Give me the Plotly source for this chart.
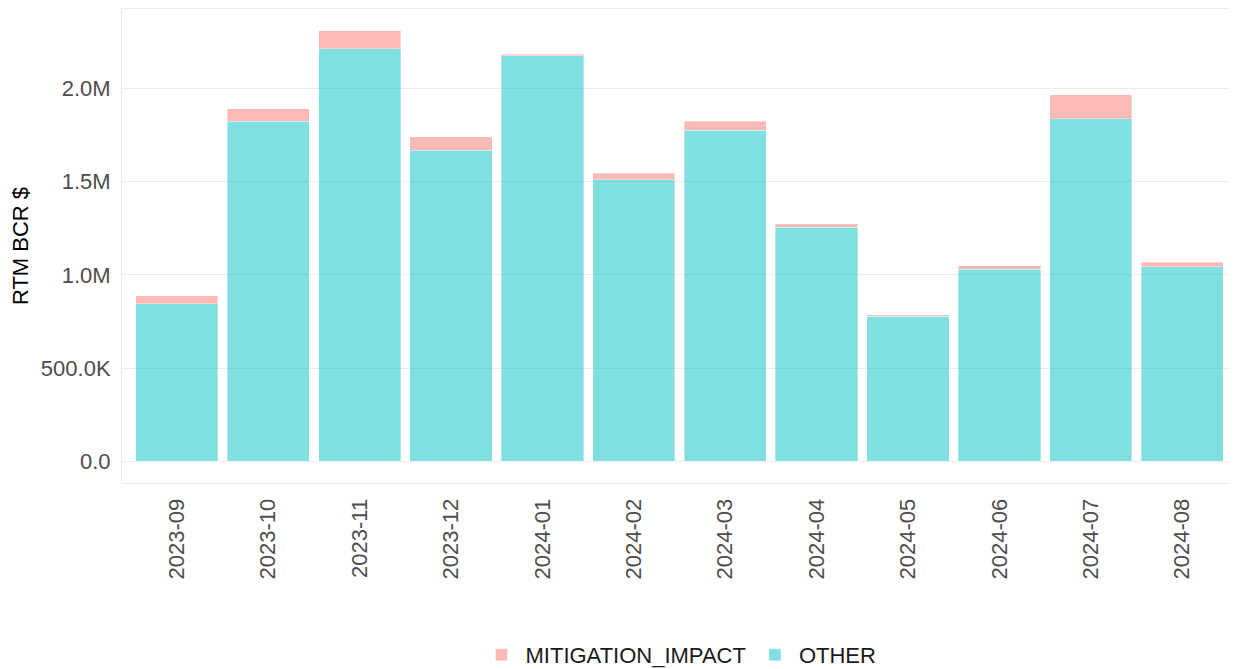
import plotly.graph_objects as go

months = ["2023-09", "2023-10", "2023-11", "2023-12", "2024-01", "2024-02",
          "2024-03", "2024-04", "2024-05", "2024-06", "2024-07", "2024-08"]
other = [845000, 1824000, 2212000, 1667000, 2175000, 1510000,
         1775000, 1255000, 779000, 1030000, 1838000, 1043000]
mitigation_impact = [44000, 67000, 98000, 73000, 7000, 34000,
                     50000, 18000, 7000, 18000, 128000, 25000]

y_tickvals = [0, 500000, 1000000, 1500000, 2000000]
y_ticktext = ["0.0", "500.0K", "1.0M", "1.5M", "2.0M"]

fig = go.Figure()
fig.add_trace(go.Bar(x=months, y=other, name="OTHER",
                     marker=dict(color="rgba(0,191,196,0.5)", line=dict(width=0.6, color="rgba(255,255,255,0.6)"))))
fig.add_trace(go.Bar(x=months, y=mitigation_impact, name="MITIGATION_IMPACT",
                     marker=dict(color="rgba(248,118,109,0.5)", line=dict(width=0.6, color="rgba(255,255,255,0.6)"))))

top = max(o + m for o, m in zip(other, mitigation_impact))
pad = top * 0.05

fig.update_layout(
    width=1230, height=661,
    barmode="stack", bargap=0.1,
    plot_bgcolor="white", paper_bgcolor="white",
    margin=dict(l=114, r=1, t=1, b=186, autoexpand=False),
    font=dict(family="Liberation Sans", size=22, color="#4D4D4D"),
    legend=dict(orientation="h", x=0.5, xanchor="center", y=-0.363, yanchor="middle",
                traceorder="reversed", itemwidth=38, font=dict(size=22, color="#1A1A1A")),
    xaxis=dict(type="category", tickangle=-90, showgrid=False, showline=True, linecolor="#EBEBEB", mirror=True,
               ticks="outside", ticklen=6, tickcolor="rgba(0,0,0,0)",
               tickfont=dict(size=22, color="#4D4D4D"), range=[-0.6, 11.6], automargin=False),
    yaxis=dict(title=dict(text="RTM BCR $", font=dict(size=22, color="#000000"), standoff=14),
               tickvals=y_tickvals, ticktext=y_ticktext, range=[-pad, top + pad],
               showgrid=True, gridcolor="#EBEBEB", gridwidth=1, zeroline=False,
               showline=True, linecolor="#EBEBEB", mirror=True,
               ticks="outside", ticklen=6, tickcolor="rgba(0,0,0,0)",
               tickfont=dict(size=22, color="#4D4D4D"), automargin=False),
)

fig.write_html("out.html")
